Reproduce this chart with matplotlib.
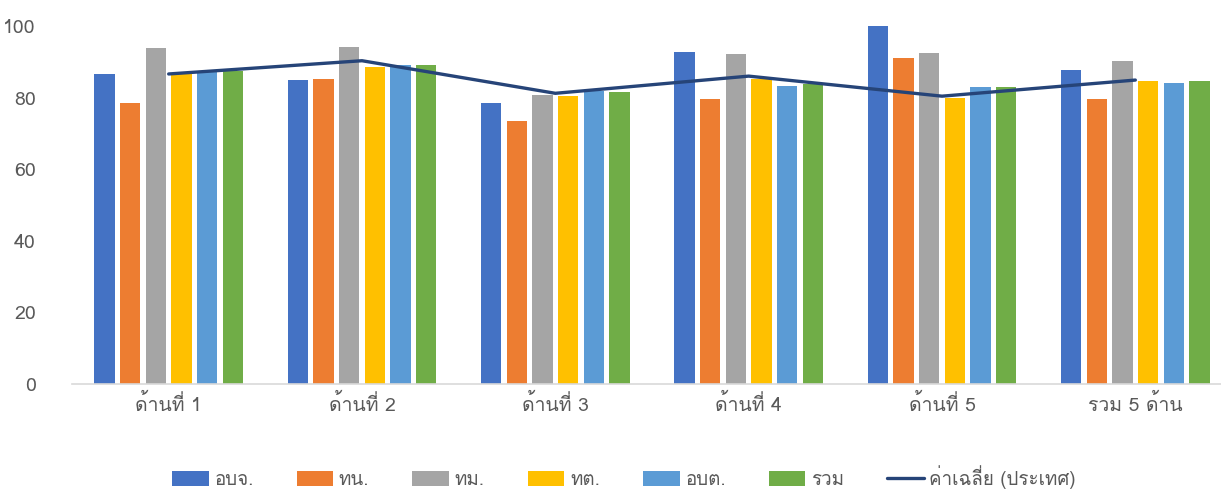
import numpy as np
import matplotlib
matplotlib.use("Agg")
import matplotlib.pyplot as plt
from matplotlib import font_manager as fm
from matplotlib.ft2font import FT2Font

categories = ["ด้านที่ 1", "ด้านที่ 2", "ด้านที่ 3", "ด้านที่ 4", "ด้านที่ 5", "รวม 5 ด้าน"]
series_names = ["อบจ.", "ทน.", "ทม.", "ทต.", "อบต.", "รวม"]
obj = [86.6, 84.8, 78.4, 92.8, 100.0, 87.8]
tn = [78.4, 85.3, 73.4, 79.7, 91.1, 79.6]
tm = [93.9, 94.2, 80.7, 92.3, 92.4, 90.1]
tt = [87.0, 88.5, 80.4, 85.2, 79.8, 84.5]
obt = [87.1, 89.0, 81.8, 83.2, 82.9, 84.2]
total = [87.5, 89.1, 81.5, 83.7, 82.9, 84.5]
country_avg = [86.6, 90.3, 81.2, 86.0, 80.4, 84.9]
line_name = "ค่าเฉลี่ย (ประเทศ)"

colors = ["#4472c4", "#ed7d31", "#a5a5a5", "#ffc000", "#5b9bd5", "#70ad47"]
line_color = "#264478"


def thai_families():
    # look for any installed font that has Thai glyphs
    found = []
    for f in fm.fontManager.ttflist:
        try:
            if 0x0E01 in FT2Font(f.fname).get_charmap():
                if f.name not in found:
                    found.append(f.name)
        except Exception:
            pass
    return found


plt.rcParams["font.family"] = thai_families() + ["DejaVu Sans"]

fig = plt.figure(figsize=(12.21, 4.91), dpi=100)
# plot area runs a little past the right edge, like the source image
ax = fig.add_axes([72 / 1221, 1 - 384 / 491, (1232 - 72) / 1221, (384 - 26) / 491])

x = np.arange(len(categories))
step = 0.133
width = 0.105
data = [obj, tn, tm, tt, obt, total]
bars = []
for i, (vals, name, c) in enumerate(zip(data, series_names, colors)):
    bars.append(ax.bar(x + (i - 2.5) * step, vals, width, color=c, label=name, zorder=2))
line, = ax.plot(x, country_avg, color=line_color, lw=2.4, label=line_name, zorder=3,
                solid_capstyle="round")

ax.set_xlim(-0.5, len(categories) - 0.5)
ax.set_ylim(0, 100)
ax.set_yticks([0, 20, 40, 60, 80, 100])
ax.set_xticks(x)
ax.set_xticklabels(categories)
ax.tick_params(length=0, labelsize=14, colors="#595959")
ax.tick_params(axis="y", pad=26)
ax.tick_params(axis="x", pad=7)
for s in ["top", "right", "left"]:
    ax.spines[s].set_visible(False)
ax.spines["bottom"].set_color("#d9d9d9")
ax.spines["bottom"].set_linewidth(1.2)

handles = bars + [line]
labels = series_names + [line_name]
leg = fig.legend(handles, labels, loc="center", bbox_to_anchor=(0.511, 1 - 477 / 491),
                 ncol=7, frameon=False, fontsize=13.5, handlelength=1.95, handleheight=0.8,
                 handletextpad=0.3, columnspacing=2.3, borderpad=0.2)
for t in leg.get_texts():
    t.set_color("#595959")

fig.savefig("out.png", dpi=100)
